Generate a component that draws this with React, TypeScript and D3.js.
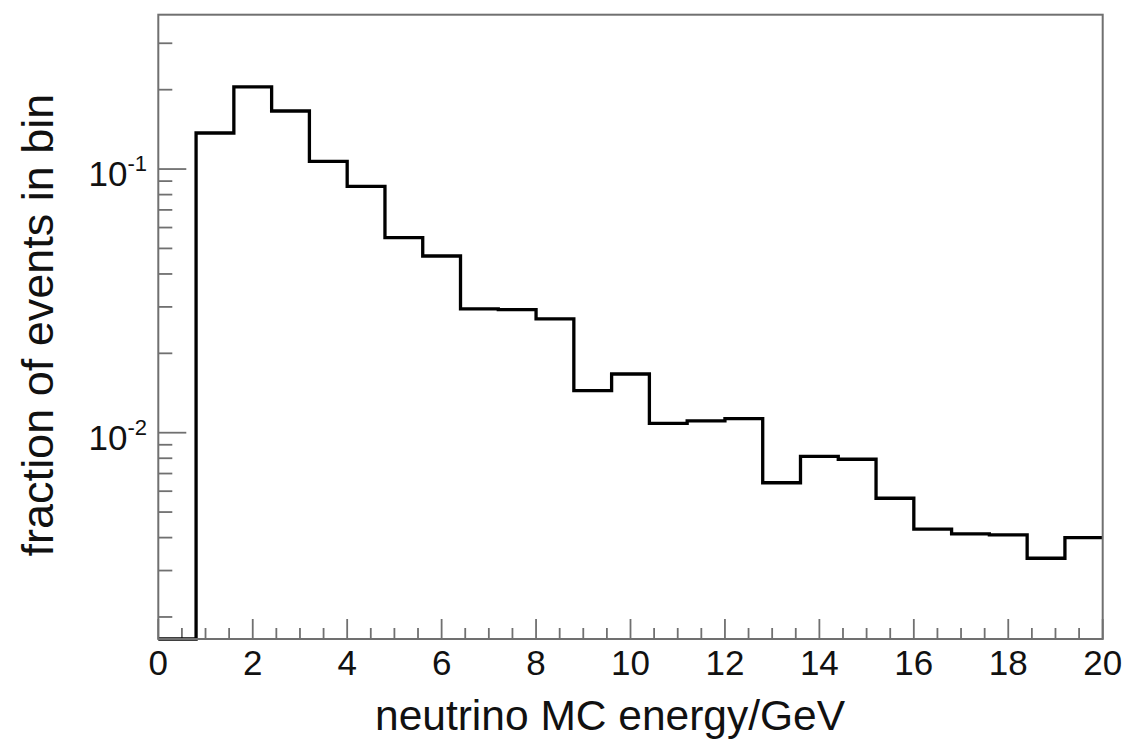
import React from "react";
import * as d3 from "d3";

// bin edges (GeV) and fraction of events per bin
const binEdges = [0, 0.8, 1.6, 2.4, 3.2, 4.0, 4.8, 5.6, 6.4, 7.2, 8.0, 8.8, 9.6, 10.4, 11.2, 12.0, 12.8, 13.6, 14.4, 15.2, 16.0, 16.8, 17.6, 18.4, 19.2, 20.0];
const binValues = [0, 0.137, 0.205, 0.166, 0.107, 0.086, 0.0549, 0.0468, 0.0295, 0.0293, 0.027, 0.01443, 0.0167, 0.01085, 0.01108, 0.0113, 0.00646, 0.00813, 0.00793, 0.00564, 0.00431, 0.00413, 0.0041, 0.00334, 0.004];
const xMajorTicks = [0, 2, 4, 6, 8, 10, 12, 14, 16, 18, 20];
const yMajorTicks = [0.1, 0.01];
const yMajorExponents = ["-1", "-2"];
const xTitle = "neutrino MC energy/GeV";
const yTitle = "fraction of events in bin";

const W = 1126;
const H = 739;
const L = 158.3, R = 1102.7, T = 14.7, B = 639;
const yMin = 0.00165, yMax = 0.385;
const FONT = "'Liberation Sans', Arial, Helvetica, sans-serif";
const AX = "#707070";

export default function App() {
  const x = d3.scaleLinear().domain([0, 20]).range([L, R]);
  const y = d3.scaleLog().domain([yMin, yMax]).range([B, T]);

  const pts: [number, number][] = binValues.map((v, i) => [binEdges[i], v]);
  pts.push([binEdges[binEdges.length - 1], binValues[binValues.length - 1]]);
  const line = d3
    .line<[number, number]>()
    .x((d) => x(d[0]))
    .y((d) => (d[1] > yMin ? y(d[1]) : B))
    .curve(d3.curveStepAfter);

  const xMinor = d3.range(0, 20.001, 0.5).filter((v) => Math.abs(v / 2 - Math.round(v / 2)) > 1e-6);
  const yMinor: number[] = [];
  [-4, -3, -2, -1].forEach((e) => {
    for (let k = 2; k <= 9; k++) {
      const v = k * Math.pow(10, e);
      if (v >= yMin && v <= yMax) yMinor.push(v);
    }
  });

  return (
    <svg width={W} height={H} style={{ position: "absolute", left: 0, top: 0, background: "#fff" }}>
      <rect x={0} y={0} width={W} height={H} fill="#fff" />
      {/* x ticks */}
      {xMajorTicks.map((t) => (
        <line key={"xM" + t} x1={x(t)} x2={x(t)} y1={B} y2={B - 20} stroke={AX} strokeWidth={1.8} />
      ))}
      {xMinor.map((t) => (
        <line key={"xm" + t} x1={x(t)} x2={x(t)} y1={B} y2={B - 11} stroke={AX} strokeWidth={1.8} />
      ))}
      {/* y ticks */}
      {yMajorTicks.map((t) => (
        <line key={"yM" + t} x1={L} x2={L + 28} y1={y(t)} y2={y(t)} stroke={AX} strokeWidth={1.8} />
      ))}
      {yMinor.map((t) => (
        <line key={"ym" + t} x1={L} x2={L + 14} y1={y(t)} y2={y(t)} stroke={AX} strokeWidth={1.8} />
      ))}
      {/* histogram */}
      <path d={line(pts) || ""} fill="none" stroke="#000" strokeWidth={3.3} strokeLinejoin="miter" />
      {/* frame */}
      <rect x={L} y={T} width={R - L} height={B - T} fill="none" stroke={AX} strokeWidth={2} />
      {/* x tick labels */}
      {xMajorTicks.map((t) => (
        <text key={"xl" + t} x={x(t)} y={675} textAnchor="middle" fontFamily={FONT} fontSize={35} fill="#111">
          {t}
        </text>
      ))}
      {/* y tick labels */}
      {yMajorTicks.map((t, i) => (
        <text key={"yl" + t} x={147} y={y(t) + 17} textAnchor="end" fontFamily={FONT} fontSize={35} fill="#111">
          10
          <tspan dy={-15} fontSize={22}>
            {yMajorExponents[i]}
          </tspan>
        </text>
      ))}
      {/* titles */}
      <text x={375} y={730} fontFamily={FONT} fontSize={42.5} fill="#111">
        {xTitle}
      </text>
      <text
        transform={`translate(53, 325) rotate(-90)`}
        textAnchor="middle"
        fontFamily={FONT}
        fontSize={45}
        fill="#111"
      >
        {yTitle}
      </text>
    </svg>
  );
}
